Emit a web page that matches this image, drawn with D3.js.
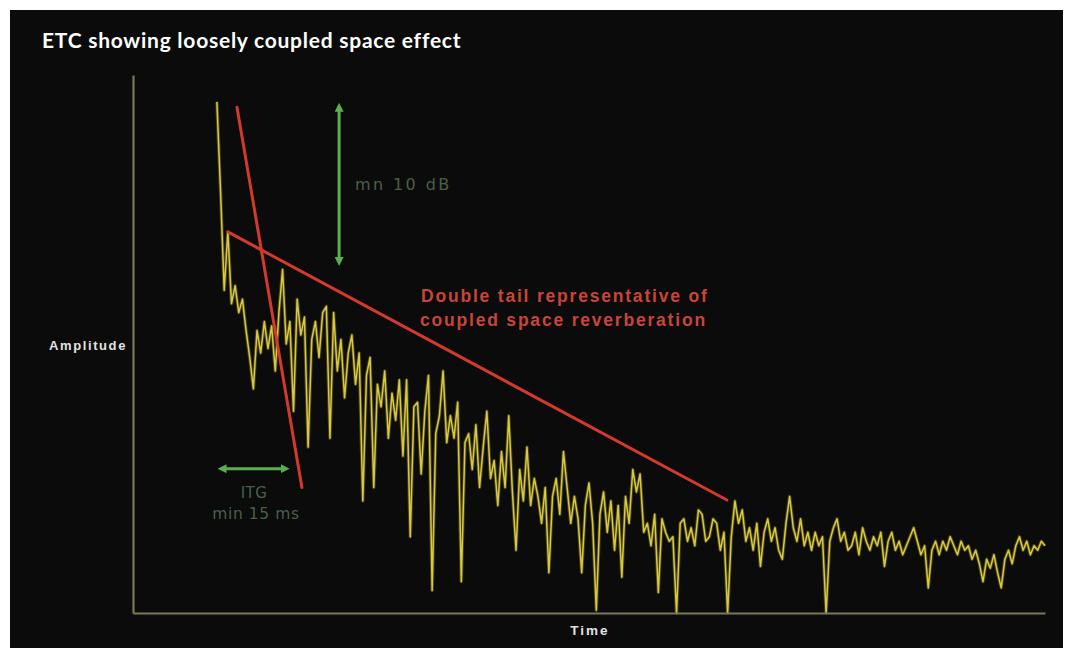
<!DOCTYPE html>
<html>
<head>
<meta charset="utf-8">
<script src="https://cdn.jsdelivr.net/npm/d3@7"></script>
<style>
  html, body { margin: 0; padding: 0; background: #ffffff; }
  svg { display: block; }
</style>
</head>
<body>
<svg id="chart" width="1073" height="648"></svg>
<script>
// ---- data ----
const title = "ETC showing loosely coupled space effect";
const xLabel = "Time";
const yLabel = "Amplitude";
const startTime = 23;     // ms, first sample
const stepTime = 1;       // ms between samples
// energy-time curve level (dB), one value per sample
const levels = [
  -3, -13, -24, -17.5, -25.5, -23.5, -26.5, -25,
  -28.5, -31.5, -35, -28.5, -31, -27.5, -30.5, -28, -33, -26.5,
  -21.7, -30, -27.5, -37.5, -25, -29, -27, -41.5, -29.5, -27.5,
  -31.5, -26.5, -25.8, -40.5, -26.5, -33, -29.5, -36, -31, -29,
  -34.5, -31, -47.5, -33.5, -31.5, -46, -34.5, -37, -33, -40.5,
  -35.5, -38.5, -34, -42.5, -34, -51.5, -37, -36.5, -44.5, -37.5,
  -33.5, -57.5, -40, -38, -33, -41, -38, -40.5, -36.5, -56.5,
  -41, -40, -44, -39, -46, -41.5, -37.5, -45, -43, -48,
  -42, -46, -38, -46.5, -53, -44, -47.5, -41.5, -48, -45,
  -47, -50, -46, -55.5, -47, -45, -49, -42, -46, -50,
  -47, -49.5, -55.5, -48, -45.5, -50, -59.7, -49, -46.5, -51,
  -47.5, -53, -48, -56, -47, -50, -44, -46.5, -44.5, -51,
  -50, -52.5, -49, -57.7, -49.5, -51, -52, -51.5, -60, -50,
  -49.5, -52, -50.5, -52.5, -48.5, -49, -52, -51.5, -49.5, -50,
  -53, -51, -60, -51.5, -47.5, -50, -48.5, -52, -50.5, -53,
  -50, -54.8, -51, -49.5, -52, -50.5, -53, -54, -50, -47,
  -50.5, -52, -49.5, -52.5, -51, -53, -51, -52.5, -51.5, -60,
  -52, -50.5, -49.5, -52, -51, -53, -52.5, -51, -53.5, -50.5,
  -52, -53, -51.5, -52.5, -51, -54.8, -52, -51, -53, -52,
  -53.5, -52.5, -51.5, -50.5, -52, -53.5, -52.5, -57.2, -53, -52,
  -53.5, -52, -53, -51.5, -52.5, -53.5, -52, -53, -52.5, -54,
  -53, -54.5, -56.5, -54, -55, -53.5, -55.5, -57.2, -54, -53,
  -54.5, -52.5, -51.5, -53, -52, -53.5, -52.5, -53, -52, -52.5
];
// decay slope lines [t0, dB0, t1, dB1]
const earlySlope = [28.5, -3.6, 46.3, -46];
const lateSlope = [26, -17.5, 162.8, -47.4];
// markers: level difference (vertical) and time gap (horizontal)
const levelGap = [56.5, -3.6, -20.8];   // t, dB top, dB bottom
const timeGap = [24.4, 41.7, -43.9];    // t start, t end, dB
const notes = {
  level: "mn 10 dB",
  gapTop: "ITG",
  gapBottom: "min 15 ms",
  tail1: "Double tail representative of",
  tail2: "coupled space reverberation"
};

// ---- layout ----
const svg = d3.select("#chart");
const x = d3.scaleLinear().domain([0, 250]).range([133, 1045]);
const y = d3.scaleLinear().domain([-60, 0]).range([613, 75]);

svg.append("rect").attr("x", 10).attr("y", 10).attr("width", 1053).attr("height", 638).attr("fill", "#0b0b0b");

svg.append("text").attr("x", 42).attr("y", 48)
  .attr("fill", "#ffffff").attr("font-family", "Lato, sans-serif").attr("font-weight", 700)
  .attr("font-size", 21).attr("letter-spacing", 0.75).text(title);

const series = levels.map((v, i) => ({ t: startTime + i * stepTime, v }));
const line = d3.line().x(d => x(d.t)).y(d => y(d.v));

svg.append("path").datum(series).attr("d", line)
  .attr("fill", "none").attr("stroke", "#6e6524").attr("stroke-width", 3.4)
  .attr("stroke-opacity", 0.6).attr("stroke-linejoin", "round");
svg.append("path").datum(series).attr("d", line)
  .attr("fill", "none").attr("stroke", "#d9c93e").attr("stroke-width", 1.5)
  .attr("stroke-linejoin", "round");

// axes
const xAxis = svg.append("g").attr("transform", `translate(0,${y(-60)})`)
  .call(d3.axisBottom(x).tickValues([]).tickSizeOuter(0));
const yAxis = svg.append("g").attr("transform", `translate(${x(0)},0)`)
  .call(d3.axisLeft(y).tickValues([]).tickSizeOuter(0));
[xAxis, yAxis].forEach(g => g.select(".domain").attr("stroke", "#7d785a").attr("stroke-width", 2.2));

svg.append("text").attr("x", 88).attr("y", 350).attr("text-anchor", "middle")
  .attr("fill", "#e2e2e2").attr("font-family", "Liberation Sans, Arial, sans-serif")
  .attr("font-weight", 700).attr("font-size", 13).attr("letter-spacing", 1.6).text(yLabel);
svg.append("text").attr("x", 590).attr("y", 635).attr("text-anchor", "middle")
  .attr("fill", "#e2e2e2").attr("font-family", "Liberation Sans, Arial, sans-serif")
  .attr("font-weight", 700).attr("font-size", 13.5).attr("letter-spacing", 2).text(xLabel);

// red decay lines
[earlySlope, lateSlope].forEach(s => {
  svg.append("line")
    .attr("x1", x(s[0])).attr("y1", y(s[1])).attr("x2", x(s[2])).attr("y2", y(s[3]))
    .attr("stroke", "#d23a2c").attr("stroke-width", 3).attr("stroke-linecap", "round");
});

// green markers
const defs = svg.append("defs");
defs.append("marker").attr("id", "ah").attr("viewBox", "0 0 10 10")
  .attr("refX", 5).attr("refY", 5).attr("markerWidth", 3).attr("markerHeight", 3)
  .attr("orient", "auto-start-reverse")
  .append("path").attr("d", "M0,0 L10,5 L0,10 Z").attr("fill", "#58b04e");

svg.append("line")
  .attr("x1", x(levelGap[0])).attr("y1", y(levelGap[1])).attr("x2", x(levelGap[0])).attr("y2", y(levelGap[2]))
  .attr("stroke", "#58b04e").attr("stroke-width", 3)
  .attr("marker-start", "url(#ah)").attr("marker-end", "url(#ah)");
svg.append("line")
  .attr("x1", x(timeGap[0])).attr("y1", y(timeGap[2])).attr("x2", x(timeGap[1])).attr("y2", y(timeGap[2]))
  .attr("stroke", "#58b04e").attr("stroke-width", 3)
  .attr("marker-start", "url(#ah)").attr("marker-end", "url(#ah)");

const dimGreen = "#4a5f4a";
svg.append("text").attr("x", 355).attr("y", 190).attr("fill", dimGreen)
  .attr("font-family", "DejaVu Sans, sans-serif").attr("font-size", 16).attr("letter-spacing", 2.4).text(notes.level);
svg.append("text").attr("x", 254).attr("y", 498).attr("text-anchor", "middle").attr("fill", dimGreen)
  .attr("font-family", "DejaVu Sans, sans-serif").attr("font-size", 15).attr("letter-spacing", 0.5).text(notes.gapTop);
svg.append("text").attr("x", 256).attr("y", 519).attr("text-anchor", "middle").attr("fill", dimGreen)
  .attr("font-family", "DejaVu Sans, sans-serif").attr("font-size", 15.5).attr("letter-spacing", 0.6).text(notes.gapBottom);

const red = "#c9453a";
svg.append("text").attr("x", 421).attr("y", 302).attr("fill", red)
  .attr("font-family", "Liberation Sans, Arial, sans-serif").attr("font-weight", 700)
  .attr("font-size", 17.5).attr("letter-spacing", 1.8).text(notes.tail1);
svg.append("text").attr("x", 420).attr("y", 326).attr("fill", red)
  .attr("font-family", "Liberation Sans, Arial, sans-serif").attr("font-weight", 700)
  .attr("font-size", 17.5).attr("letter-spacing", 1.8).text(notes.tail2);
</script>
</body>
</html>
